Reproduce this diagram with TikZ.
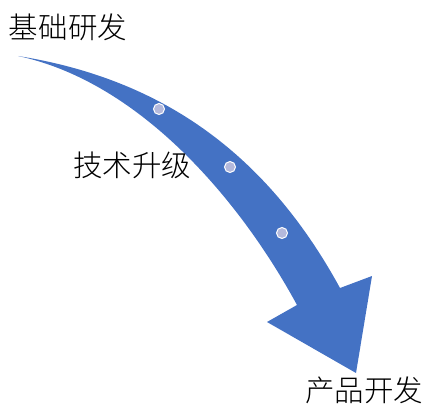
\documentclass[tikz,border=0pt]{standalone}
\usepackage{fontspec}
\newfontfamily\cjk{Noto Sans CJK SC Light}
\usetikzlibrary{positioning}
\definecolor{arrowblue}{HTML}{4472C4}
\definecolor{dotfill}{HTML}{B4B9DC}

\begin{document}
\begin{tikzpicture}[x=1pt,y=-1pt,
  stage/.style={font=\cjk\fontsize{29.5}{31}\selectfont,inner sep=0pt},
  dot/.style={circle,fill=dotfill,draw=white,line width=1pt,minimum size=11pt,inner sep=0pt}]
\useasboundingbox (0,0) rectangle (433,411);
% curved arrow
\fill[arrowblue] (18,56) .. controls (169,80) and (270,160) .. (340,288)
  -- (372,276) -- (356,373) -- (267,322) -- (297,305)
  .. controls (240,200) and (140,82) .. (18,56) -- cycle;
% dots on the arrow
\node[dot] (d1) at (159,109) {};
\node[dot] (d2) at (230,167) {};
\node[dot] (d3) at (282,233) {};
% labels
\node[stage] (basic) at (68,27) {基础研发};
\node[stage] (upgrade) at (132,165) {技术升级};
\node[stage] (product) at (364,390) {产品开发};
\end{tikzpicture}
\end{document}
